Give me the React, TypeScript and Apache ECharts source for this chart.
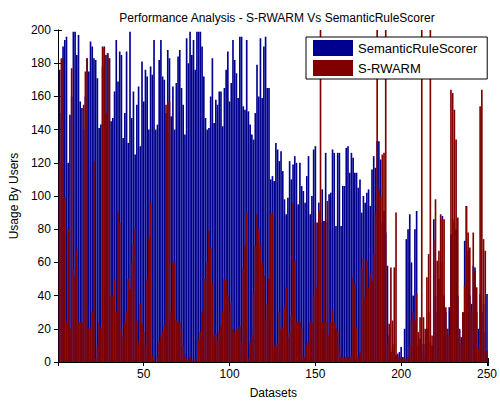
import React, { useEffect, useRef } from "react";
import * as echarts from "echarts";

const title = "Performance Analysis - S-RWARM Vs SemanticRuleScorer";
const xName = "Datasets";
const yName = "Usage By Users";
const seriesNames = ["SemanticRuleScorer", "S-RWARM"];

// SemanticRuleScorer values, datasets 1..250
const semanticRuleScorer: number[] = [
  176, 150, 190, 194, 196, 120, 149, 160, 199, 199,
  185, 197, 157, 153, 140, 160, 183, 175, 193, 190,
  183, 182, 171, 141, 143, 178, 190, 185, 186, 183,
  145, 147, 163, 194, 169, 187, 185, 135, 150, 187,
  132, 199, 147, 163, 125, 155, 166, 130, 181, 157,
  176, 172, 140, 178, 173, 194, 140, 143, 182, 194,
  172, 170, 150, 188, 183, 148, 166, 140, 168, 184,
  188, 165, 155, 137, 195, 180, 199, 185, 194, 176,
  199, 199, 199, 190, 172, 147, 140, 141, 160, 183,
  144, 158, 155, 163, 163, 142, 165, 176, 187, 157,
  168, 194, 182, 174, 159, 196, 196, 154, 152, 194,
  151, 143, 137, 134, 150, 179, 160, 195, 159, 190,
  196, 165, 165, 110, 112, 109, 132, 128, 121, 127,
  115, 98, 89, 99, 121, 110, 119, 124, 120, 95,
  120, 106, 103, 96, 112, 124, 89, 100, 128, 130,
  84, 96, 84, 104, 85, 126, 84, 101, 102, 128,
  126, 82, 126, 126, 82, 106, 106, 129, 130, 114,
  126, 123, 114, 114, 105, 110, 90, 100, 96, 102,
  104, 94, 116, 124, 117, 133, 133, 122, 84, 91,
  78, 58, 16, 6, 8, 11, 4, 5, 6, 9,
  3, 20, 74, 80, 89, 60, 40, 80, 91, 10,
  14, 11, 5, 11, 20, 30, 12, 10, 86, 40,
  30, 50, 60, 88, 40, 30, 20, 33, 77, 86,
  84, 80, 40, 20, 15, 30, 73, 94, 67, 40,
  35, 58, 57, 30, 20, 41, 30, 35, 18, 41,
];

// S-RWARM values, datasets 1..250 (values above 200 are clipped by the axis)
const sRwarm: number[] = [
  120, 183, 183, 99, 24, 80, 20, 177, 56, 51,
  68, 24, 24, 24, 155, 175, 183, 20, 20, 30,
  121, 2, 10, 24, 20, 190, 189, 150, 186, 183,
  40, 40, 50, 30, 90, 84, 20, 15, 24, 30,
  50, 44, 60, 71, 80, 25, 12, 35, 23, 18,
  10, 50, 75, 96, 4, 1, 0, 3, 12, 15,
  18, 22, 155, 157, 157, 30, 60, 60, 25, 24,
  24, 20, 10, 4, 2, 1, 3, 1, 0, 2,
  1, 14, 18, 30, 50, 50, 60, 79, 69, 47,
  15, 17, 13, 18, 22, 30, 50, 50, 40, 30,
  36, 20, 18, 20, 20, 22, 12, 56, 70, 90,
  2, 12, 16, 41, 70, 89, 80, 70, 60, 52,
  25, 35, 50, 89, 90, 10, 10, 11, 30, 20,
  21, 33, 45, 15, 18, 28, 96, 61, 24, 24,
  24, 20, 3, 3, 10, 12, 24, 24, 40, 84,
  45, 91, 250, 24, 85, 24, 97, 16, 24, 31,
  24, 20, 19, 10, 3, 3, 2, 3, 3, 3,
  4, 51, 47, 21, 3, 6, 57, 63, 39, 61,
  45, 53, 49, 65, 90, 250, 104, 100, 125, 126,
  250, 11, 23, 57, 25, 57, 90, 3, 3, 3,
  2, 2, 2, 3, 10, 25, 30, 25, 41, 18,
  27, 250, 27, 20, 51, 65, 250, 16, 73, 98,
  61, 67, 89, 86, 86, 33, 20, 16, 164, 162,
  152, 134, 87, 19, 11, 30, 46, 94, 78, 69,
  31, 78, 55, 45, 8, 154, 164, 74, 67, 7,
];

const xTickLabels = [50, 100, 150, 200, 250];
const yTickLabels = [0, 20, 40, 60, 80, 100, 120, 140, 160, 180, 200];

const FONT = "'Liberation Sans', Arial, Helvetica, sans-serif";

export default function App() {
  const ref = useRef<HTMLDivElement>(null);

  useEffect(() => {
    if (!ref.current) return;
    const chart = echarts.init(ref.current, null, { renderer: "svg", width: 500, height: 404 });

    const toPairs = (arr: number[]) => arr.map((v, i) => [i + 1, v]);
    const axisLine = { show: true, lineStyle: { color: "#000", width: 1 } };
    const tick = { show: true, inside: true, length: 4, lineStyle: { color: "#000" } };

    chart.setOption({
      animation: false,
      backgroundColor: "#fff",
      textStyle: { fontFamily: FONT },
      title: {
        text: title,
        left: 272,
        textAlign: "center",
        top: 7,
        textStyle: { fontSize: 12, fontWeight: "normal", color: "#000", fontFamily: FONT },
      },
      grid: { left: 56, right: 11, top: 30, bottom: 35, containLabel: false },
      legend: {
        orient: "vertical",
        left: 306,
        top: 37,
        width: 181,
        itemWidth: 40,
        itemHeight: 16,
        itemGap: 4,
        padding: [3, 10, 3, 7],
        backgroundColor: "#fff",
        borderColor: "#000",
        borderWidth: 1,
        icon: "rect",
        textStyle: { fontSize: 13, color: "#000", fontFamily: FONT },
        data: seriesNames,
      },
      xAxis: [
        {
          type: "value", min: 0, max: 251, interval: 50, position: "bottom",
          name: xName, nameLocation: "middle", nameGap: 25,
          nameTextStyle: { fontSize: 12, color: "#000", fontFamily: FONT },
          axisLine, axisTick: tick, splitLine: { show: false },
          axisLabel: {
            fontSize: 12, color: "#000", margin: 6, fontFamily: FONT,
            formatter: (v: number) => (xTickLabels.includes(v) ? String(v) : ""),
          },
        },
        {
          type: "value", min: 0, max: 251, interval: 50, position: "top",
          axisLine, axisTick: tick, splitLine: { show: false }, axisLabel: { show: false },
        },
      ],
      yAxis: [
        {
          type: "value", min: 0, max: 200, interval: 20, position: "left",
          name: yName, nameLocation: "middle", nameGap: 36,
          nameTextStyle: { fontSize: 12, color: "#000", fontFamily: FONT },
          axisLine, axisTick: tick, splitLine: { show: false },
          axisLabel: {
            fontSize: 12, color: "#000", margin: 7, fontFamily: FONT,
            formatter: (v: number) => (yTickLabels.includes(v) ? String(v) : ""),
          },
        },
        {
          type: "value", min: 0, max: 200, interval: 20, position: "right",
          axisLine, axisTick: tick, splitLine: { show: false }, axisLabel: { show: false },
        },
      ],
      series: [
        {
          name: seriesNames[0], type: "bar", data: toPairs(semanticRuleScorer),
          barWidth: 1.65, barGap: "-100%", clip: true,
          itemStyle: { color: "#00008F" }, emphasis: { disabled: true },
        },
        {
          name: seriesNames[1], type: "bar", data: toPairs(sRwarm),
          barWidth: 1.65, barGap: "-100%", clip: true,
          itemStyle: { color: "#800000" }, emphasis: { disabled: true },
        },
      ],
    });

    return () => chart.dispose();
  }, []);

  return <div ref={ref} style={{ width: 500, height: 404, position: "absolute", left: 0, top: 0 }} />;
}
